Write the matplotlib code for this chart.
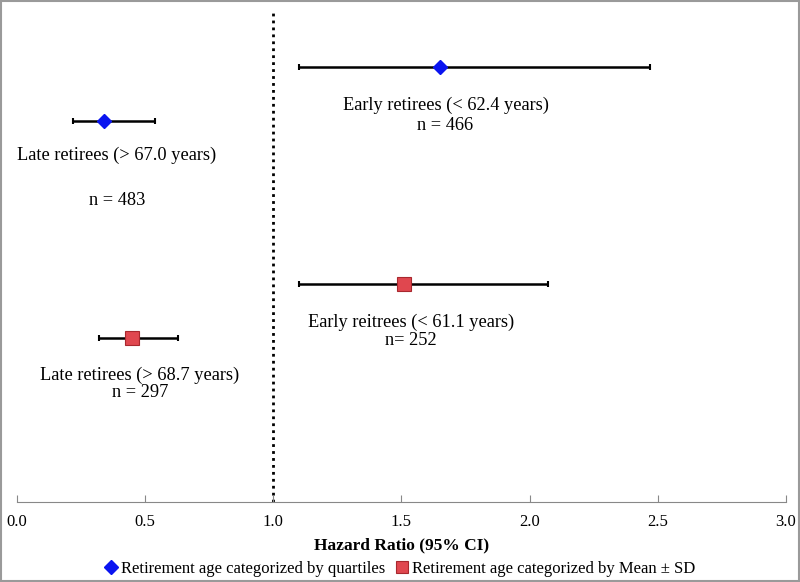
import matplotlib.pyplot as plt
import matplotlib.patches as patches

plt.rcParams['font.family'] = ['Liberation Serif', 'DejaVu Serif']

# Hazard ratios and 95% CI
hr_quart = [1.65, 0.34]
lo_quart = [1.10, 0.22]
hi_quart = [2.47, 0.54]
hr_mean = [1.51, 0.45]
lo_mean = [1.10, 0.32]
hi_mean = [2.07, 0.63]

labels_quart = ["Early retirees (< 62.4 years)", "Late retirees (> 67.0 years)"]
n_quart = ["n = 466", "n = 483"]
labels_mean = ["Early reitrees (< 61.1 years)", "Late retirees (> 68.7 years)"]
n_mean = ["n= 252", "n = 297"]

legend_names = ["Retirement age categorized by quartiles",
                "Retirement age categorized by Mean \u00b1 SD"]
xticks = [0.0, 0.5, 1.0, 1.5, 2.0, 2.5, 3.0]

# vertical rows (layout)
y_quart = [8.84, 7.74]
y_mean = [4.43, 3.33]

fig = plt.figure(figsize=(8, 5.82), dpi=100)
ax = fig.add_axes([0.021, 0.1375, 0.9615, 0.845])

# reference line at HR = 1
ax.axvline(1.0, color='black', linestyle=(0, (1, 1.5)), linewidth=2.0, zorder=1)

for hr, lo, hi, yy in zip(hr_quart, lo_quart, hi_quart, y_quart):
    ax.errorbar(hr, yy, xerr=[[hr - lo], [hi - hr]], fmt='none', ecolor='black',
                elinewidth=1.8, capsize=2.5, capthick=1.5, zorder=2)
qh, = ax.plot(hr_quart, y_quart, linestyle='none', marker='D', markersize=7.5,
              color='#0a14f0', markeredgecolor='#0a14f0', zorder=3)

for hr, lo, hi, yy in zip(hr_mean, lo_mean, hi_mean, y_mean):
    ax.errorbar(hr, yy, xerr=[[hr - lo], [hi - hr]], fmt='none', ecolor='black',
                elinewidth=1.8, capsize=2.5, capthick=1.5, zorder=2)
mh, = ax.plot(hr_mean, y_mean, linestyle='none', marker='s', markersize=9.5,
              color='#e0474f', markeredgecolor='#a8282e', markeredgewidth=0.8, zorder=3)

fs = 13.2
# early quartile
ax.text(1.672, 8.06, labels_quart[0], ha='center', va='center', fontsize=fs)
ax.text(1.672, 7.65, n_quart[0], ha='center', va='center', fontsize=fs)
# late quartile
ax.text(0.39, 7.04, labels_quart[1], ha='center', va='center', fontsize=fs)
ax.text(0.39, 6.12, n_quart[1], ha='center', va='center', fontsize=fs)
# early mean
ax.text(1.537, 3.66, labels_mean[0], ha='center', va='center', fontsize=fs)
ax.text(1.537, 3.28, n_mean[0], ha='center', va='center', fontsize=fs)
# late mean
ax.text(0.48, 2.58, labels_mean[1], ha='center', va='center', fontsize=fs)
ax.text(0.48, 2.22, n_mean[1], ha='center', va='center', fontsize=fs)

ax.set_xlim(0, 3.0)
ax.set_ylim(0, 10)
ax.set_yticks([])
ax.set_xticks(xticks)
ax.set_xticklabels(["%.1f" % t for t in xticks], fontsize=12)
ax.tick_params(axis='x', direction='in', length=5, color='#888888', pad=9)
for s in ['top', 'right', 'left']:
    ax.spines[s].set_visible(False)
ax.spines['bottom'].set_color('#888888')
ax.set_xlabel("Hazard Ratio (95% CI)", fontsize=12.5, fontweight='bold', labelpad=5)

fig.legend([qh, mh], legend_names, loc='center', bbox_to_anchor=(0.5, 0.022),
           ncol=2, frameon=False, fontsize=12, handlelength=0.8, handletextpad=0.2,
           columnspacing=0.6, markerscale=0.9)

# light grey border around the image
fig.patches.append(patches.Rectangle((0.001, 0.001), 0.998, 0.998, transform=fig.transFigure,
                                     fill=False, edgecolor='#9a9a9a', linewidth=1.5))

plt.savefig("out.png", dpi=100)
plt.close()
